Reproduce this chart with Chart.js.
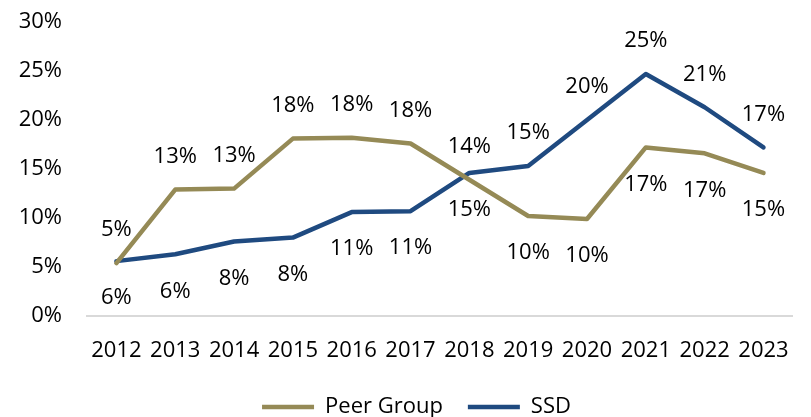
<!DOCTYPE html>
<html>
<head>
<meta charset="utf-8">
<script src="https://cdn.jsdelivr.net/npm/chart.js@4.4.0/dist/chart.umd.js"></script>
<style>
    html, body { margin: 0; padding: 0; background: #fff; overflow: hidden; }
    #wrap { width: 811px; height: 428px; }
</style>
</head>
<body>
<div id="wrap"><canvas id="chart" width="811" height="428"></canvas></div>
<script>
const years = ['2012', '2013', '2014', '2015', '2016', '2017', '2018', '2019', '2020', '2021', '2022', '2023'];
const peerGroup = [5.4, 12.9, 13.0, 18.1, 18.2, 17.6, 13.9, 10.2, 9.9, 17.2, 16.6, 14.6];
const ssd = [5.6, 6.3, 7.6, 8.0, 10.6, 10.7, 14.6, 15.3, 20.0, 24.7, 21.3, 17.2];
const yTicks = [0, 5, 10, 15, 20, 25, 30];

// which side of the line each value label sits on
const peerLabelSide = ['up', 'up', 'up', 'up', 'up', 'up', 'up', 'down', 'down', 'down', 'down', 'down'];
const ssdLabelSide = ['down', 'down', 'down', 'down', 'down', 'down', 'down', 'up', 'up', 'up', 'up', 'up'];

const FONT = "'Open Sans', 'Liberation Sans', sans-serif";
const FONT_SIZE = 22;

const valueLabels = {
    id: 'valueLabels',
    afterDatasetsDraw(chart) {
        const ctx = chart.ctx;
        ctx.save();
        ctx.font = FONT_SIZE + 'px ' + FONT;
        ctx.fillStyle = '#000';
        ctx.textAlign = 'center';
        ctx.textBaseline = 'middle';
        chart.data.datasets.forEach((ds, di) => {
            const meta = chart.getDatasetMeta(di);
            meta.data.forEach((pt, i) => {
                const dy = ds.labelSide[i] === 'up' ? -33 : 37;
                ctx.fillText(Math.round(ds.data[i]) + '%', pt.x, pt.y + dy);
            });
        });
        ctx.restore();
    }
};

// centre the legend under the plot area rather than the whole canvas
const legendShift = {
    id: 'legendShift',
    afterLayout(chart) {
        if (chart.legend) chart.legend.left += 31;
    }
};

const ctx = document.getElementById('chart').getContext('2d');
new Chart(ctx, {
    type: 'line',
    data: {
        labels: years,
        datasets: [
            {
                label: 'Peer Group',
                data: peerGroup,
                labelSide: peerLabelSide,
                borderColor: '#958a56',
                backgroundColor: '#958a56',
                borderWidth: 4.5,
                borderCapStyle: 'round',
                borderJoinStyle: 'round',
                pointRadius: 0,
                tension: 0
            },
            {
                label: 'SSD',
                data: ssd,
                labelSide: ssdLabelSide,
                borderColor: '#1f4a80',
                backgroundColor: '#1f4a80',
                borderWidth: 4.5,
                borderCapStyle: 'round',
                borderJoinStyle: 'round',
                pointRadius: 0,
                tension: 0
            }
        ]
    },
    options: {
        responsive: false,
        animation: false,
        layout: {
            padding: { left: 0, right: 9, top: 22, bottom: 0 }
        },
        plugins: {
            tooltip: { enabled: false },
            legend: {
                display: true,
                position: 'bottom',
                labels: {
                    font: { family: FONT, size: FONT_SIZE },
                    color: '#000',
                    usePointStyle: true,
                    pointStyle: 'line',
                    pointStyleWidth: 52,
                    padding: 25
                }
            }
        },
        scales: {
            x: {
                offset: true,
                grid: { display: false, drawTicks: false },
                border: { display: true, color: '#d9d9d9', width: 2 },
                ticks: {
                    font: { family: FONT, size: FONT_SIZE },
                    color: '#000',
                    padding: 22,
                    maxRotation: 0,
                    autoSkip: false
                },
                afterFit(scale) { scale.height = 55; }
            },
            y: {
                min: 0,
                max: 30,
                grid: { display: false, drawTicks: false },
                border: { display: false },
                afterBuildTicks(scale) {
                    scale.ticks = yTicks.map(v => ({ value: v }));
                },
                ticks: {
                    font: { family: FONT, size: FONT_SIZE },
                    color: '#000',
                    padding: 25,
                    callback: v => v + '%'
                },
                afterFit(scale) {
                    scale.width = 87;
                    scale.paddingTop = 0;
                    scale.paddingBottom = 0;
                }
            }
        }
    },
    plugins: [valueLabels, legendShift]
});
</script>
</body>
</html>
